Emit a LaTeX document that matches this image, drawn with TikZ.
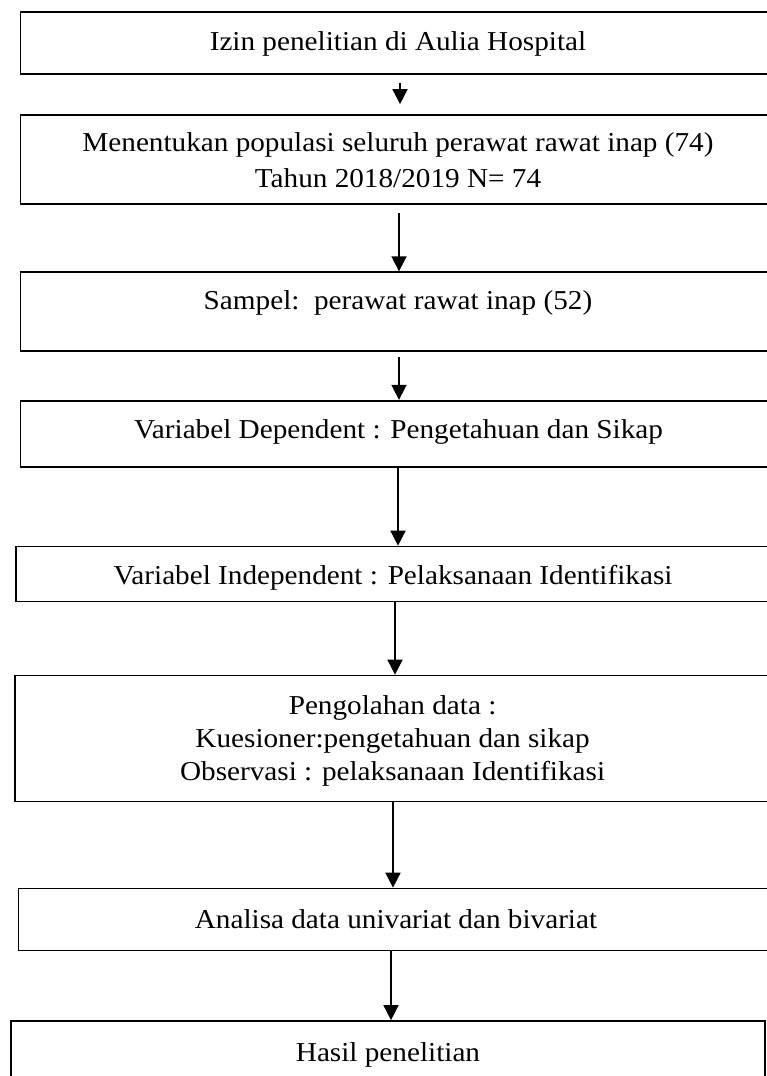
\documentclass[tikz,border=0pt]{standalone}
\usepackage{fontspec}
\setmainfont[FakeStretch=1.07]{Liberation Serif}
\usetikzlibrary{arrows.meta,calc}
\begin{document}
\begin{tikzpicture}[x=1pt,y=-1pt,
  box/.style={draw=black, line width=1.7pt, rectangle, inner sep=0pt},
  txt/.style={font=\fontsize{27.3}{33}\selectfont, align=center, inner sep=0pt},
  arr/.style={line width=1.6pt, -{Triangle[length=15pt,width=15pt]}}]
\useasboundingbox (0,0) rectangle (767,1076);
\clip (0,0) rectangle (767,1076);
% boxes
\node[box, minimum width=754.5pt, minimum height=62.3pt] (b1) at (397.75,42.85) {};
\node[box, minimum width=754.5pt, minimum height=89pt]   (b2) at (397.75,159.5) {};
\node[box, minimum width=754.5pt, minimum height=79pt]   (b3) at (397.75,311.7) {};
\node[box, minimum width=754.5pt, minimum height=66pt]   (b4) at (397.75,433.7) {};
\node[box, minimum width=754pt,   minimum height=55pt]   (b5) at (393,574) {};
\node[box, minimum width=755pt,   minimum height=126pt]  (b6) at (392.5,738.5) {};
\node[box, minimum width=754.4pt, minimum height=62pt]   (b7) at (395.8,919.5) {};
\node[box, minimum width=754pt,   minimum height=61pt]   (b8) at (388,1051.5) {};
% texts
\node[txt] (t1) at (398,44.3) {Izin penelitian di Aulia Hospital};
\node[txt, font=\fontsize{27.3}{36.7}\selectfont] (t2) at (398,160.2) {Menentukan populasi seluruh perawat rawat inap (74)\\Tahun 2018/2019 N= 74};
\node[txt] (t3) at (398,302.8) {Sampel:\ \ perawat rawat inap (52)};
\node[txt] (t4) at (398.5,431.9) {Variabel Dependent : Pengetahuan dan Sikap};
\node[txt] (t5) at (393,577.9) {Variabel Independent : Pelaksanaan Identifikasi};
\node[txt, font=\fontsize{27.3}{33.2}\selectfont] (t6) at (392.6,741.2) {Pengolahan data :\\Kuesioner:pengetahuan dan sikap\\Observasi : pelaksanaan Identifikasi};
\node[txt] (t7) at (396,919.3) {Analisa data univariat dan bivariat};
\node[txt] (t8) at (388,1055.3) {Hasil penelitian};
% arrows
\draw[arr, shorten <=8pt, shorten >=10pt] ([xshift=2.25pt]b1.south) -- ([xshift=2.25pt]b1.south |- b2.north);
\draw[arr, shorten <=8pt] ([xshift=1.25pt]b2.south) -- ([xshift=1.25pt]b2.south |- b3.north);
\draw[arr, shorten <=5pt] ([xshift=1.25pt]b3.south) -- ([xshift=1.25pt]b3.south |- b4.north);
\draw[arr] ([xshift=0.25pt]b4.south) -- ([xshift=0.25pt]b4.south |- b5.north);
\draw[arr] ([xshift=2pt]b5.south) -- ([xshift=2pt]b5.south |- b6.north);
\draw[arr] ([xshift=0.5pt]b6.south) -- ([xshift=0.5pt]b6.south |- b7.north);
\draw[arr] ([xshift=-4.8pt]b7.south) -- ([xshift=-4.8pt]b7.south |- b8.north);
\end{tikzpicture}
\end{document}
